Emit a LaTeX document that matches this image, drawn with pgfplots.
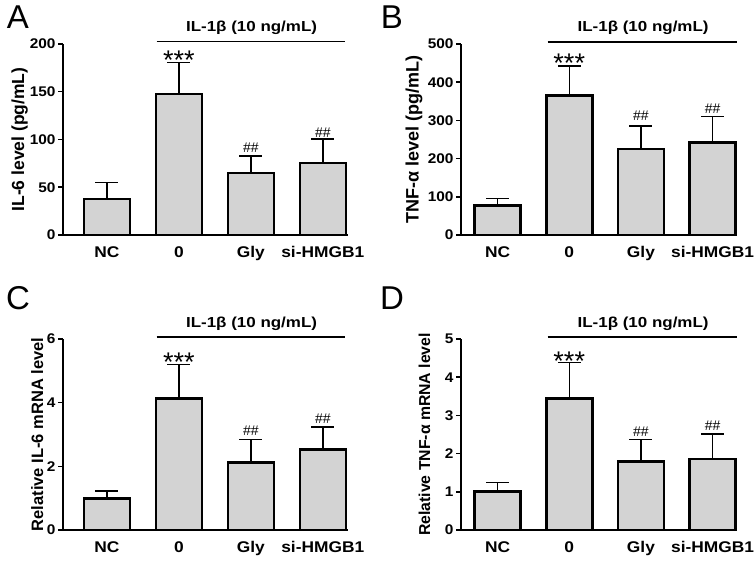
\documentclass[border=0pt]{standalone}
\usepackage{pgfplots}
\pgfplotsset{compat=1.18}
\usepackage{fontspec}
\setmainfont{Liberation Sans}
\definecolor{barfill}{HTML}{D3D3D3}
\newcommand{\hs}[1]{\scalebox{1.12}[1]{#1}}
\pgfplotsset{
  panel/.style={
    scale only axis,
    height=191pt,
    axis x line*=bottom,
    axis y line*=left,
    axis line style={line width=2pt},
    ymin=0,
    xtick={0,1,2,3},
    xticklabels={\hs{NC},\hs{0},\hs{Gly},\hs{si-HMGB1}},
    xtick style={draw=none},
    xticklabel style={font=\bfseries\fontsize{15.5}{17}\selectfont, yshift=-3pt},
    ytick style={line width=1.5pt, black},
    tick align=outside,
    major tick length=5pt,
    yticklabel={\scalebox{1.1}[1]{\pgfmathprintnumber{\tick}}},
    yticklabel style={font=\bfseries\fontsize{14}{16}\selectfont, xshift=1pt},
    /pgf/number format/assume math mode=true,
    ylabel style={font=\bfseries\fontsize{17}{19}\selectfont},
    clip=false,
  },
  mybar/.style={
    ybar, bar width=46pt, fill=barfill, draw=black, line width=2.6pt,
    error bars/.cd, y dir=plus, y explicit,
    error bar style={line width=1.5pt},
    error mark options={rotate=90, mark size=11.5pt, line width=1.5pt},
  },
}
\newcommand{\stars}{\fontsize{27}{30}\selectfont ***}
\newcommand{\hh}{\fontsize{14}{16}\selectfont \#\#}
\newcommand{\ilb}{\bfseries\fontsize{14.5}{17}\selectfont \scalebox{1.17}[1]{IL-1β (10 ng/mL)}}
\begin{document}
\begin{tikzpicture}
\path[use as bounding box] (0,0) rectangle (755pt,561pt);
% Panel A
\begin{axis}[panel, at={(63pt,326pt)}, anchor=south west, width=285pt,
  xmin=-0.61, xmax=3.35, ymax=200, ytick={0,50,100,150,200},
  ylabel={IL-6 level (pg/mL)},
  ylabel style={at={(axis description cs:-0.152,0.5)}, anchor=center, font=\bfseries\fontsize{17.5}{19}\selectfont}]
\addplot[mybar] coordinates {(0,37.6) +- (0,17.4) (1,147.7) +- (0,33.1) (2,64.8) +- (0,18.1) (3,75.3) +- (0,25)};
\draw[line width=1.5pt] (axis cs:0.69,202.4) -- (axis cs:3.31,202.4);
\node at (axis cs:2.01,216.8) {\ilb};
\node[anchor=base] at (axis cs:1,173) {\stars};
\node[anchor=base] at (axis cs:2,86.9) {\hh};
\node[anchor=base] at (axis cs:3,102.6) {\hh};
\end{axis}
% Panel B
\begin{axis}[panel, at={(461pt,326pt)}, anchor=south west, width=276pt,
  xmin=-0.51, xmax=3.34, ymax=500, ytick={0,100,200,300,400,500},
  ylabel={TNF-α level (pg/mL)},
  ylabel style={at={(axis description cs:-0.17,0.5)}, anchor=center, font=\bfseries\fontsize{18}{20}\selectfont}]
\addplot[mybar] coordinates {(0,76.7) +- (0,19.1) (1,365) +- (0,77.5) (2,224.7) +- (0,61) (3,242) +- (0,68)};
\draw[line width=1.5pt] (axis cs:0.70,505) -- (axis cs:3.34,505);
\node at (axis cs:2.03,542) {\ilb};
\node[anchor=base] at (axis cs:1,425) {\stars};
\node[anchor=base] at (axis cs:2,300) {\hh};
\node[anchor=base] at (axis cs:3,318.6) {\hh};
\end{axis}
% Panel C
\begin{axis}[panel, at={(63pt,31pt)}, anchor=south west, width=285pt,
  xmin=-0.61, xmax=3.35, ymax=6, ytick={0,2,4,6},
  ylabel={Relative IL-6 mRNA level},
  ylabel style={at={(axis description cs:-0.09,0.5)}, anchor=center, font=\bfseries\fontsize{16.5}{18}\selectfont}]
\addplot[mybar] coordinates {(0,0.993) +- (0,0.227) (1,4.13) +- (0,1.07) (2,2.12) +- (0,0.72) (3,2.53) +- (0,0.70)};
\draw[line width=1.5pt] (axis cs:0.69,6.06) -- (axis cs:3.31,6.06);
\node at (axis cs:2.01,6.48) {\ilb};
\node[anchor=base] at (axis cs:1,4.98) {\stars};
\node[anchor=base] at (axis cs:2,2.98) {\hh};
\node[anchor=base] at (axis cs:3,3.35) {\hh};
\end{axis}
% Panel D
\begin{axis}[panel, at={(461pt,31pt)}, anchor=south west, width=276pt,
  xmin=-0.51, xmax=3.34, ymax=5, ytick={0,1,2,3,4,5},
  ylabel={Relative TNF-α mRNA level},
  ylabel style={at={(axis description cs:-0.132,0.5)}, anchor=center, font=\bfseries\fontsize{15.8}{18}\selectfont}]
\addplot[mybar] coordinates {(0,1.0) +- (0,0.24) (1,3.45) +- (0,0.94) (2,1.79) +- (0,0.58) (3,1.86) +- (0,0.65)};
\draw[line width=1.5pt] (axis cs:0.70,5.05) -- (axis cs:3.34,5.05);
\node at (axis cs:2.03,5.4) {\ilb};
\node[anchor=base] at (axis cs:1,4.18) {\stars};
\node[anchor=base] at (axis cs:2,2.46) {\hh};
\node[anchor=base] at (axis cs:3,2.6) {\hh};
\end{axis}
% panel letters
\node[font=\fontsize{33}{36}\selectfont] at (18pt,544pt) {A};
\node[font=\fontsize{33}{36}\selectfont] at (392pt,544pt) {B};
\node[font=\fontsize{33}{36}\selectfont] at (18pt,263pt) {C};
\node[font=\fontsize{33}{36}\selectfont] at (392pt,263pt) {D};
\end{tikzpicture}
\end{document}
